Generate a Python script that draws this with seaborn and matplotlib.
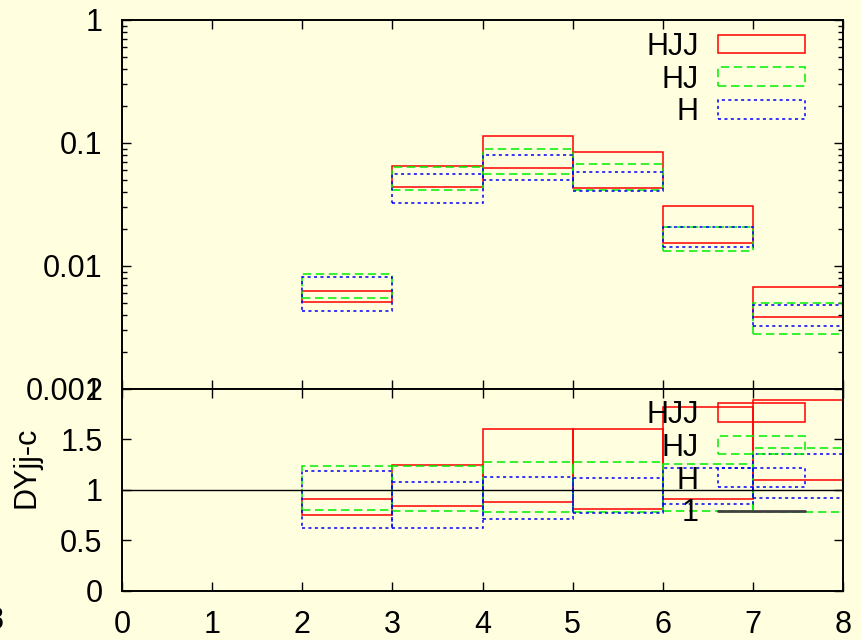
import numpy as np
import matplotlib
matplotlib.use("Agg")
import matplotlib.pyplot as plt
import seaborn as sns
from matplotlib.lines import Line2D

# bin left edges (width 1)
bins = [2, 3, 4, 5, 6, 7]

# absolute distributions: upper / lower band edges
hjj_hi = [0.00626, 0.0654, 0.1134, 0.0840, 0.0306, 0.00671]
hjj_lo = [0.00513, 0.0439, 0.0623, 0.0428, 0.0153, 0.00387]
hj_hi = [0.00857, 0.0642, 0.0894, 0.0671, 0.0209, 0.00500]
hj_lo = [0.00546, 0.0412, 0.0557, 0.0412, 0.0133, 0.00280]
h_hi = [0.00818, 0.0562, 0.0803, 0.0584, 0.0206, 0.00479]
h_lo = [0.00431, 0.0323, 0.0503, 0.0410, 0.0144, 0.00327]

# ratio panel
hjj_r_hi = [0.906, 1.246, 1.600, 1.600, 1.818, 1.891]
hjj_r_lo = [0.748, 0.840, 0.880, 0.813, 0.912, 1.098]
hj_r_hi = [1.236, 1.236, 1.273, 1.273, 1.253, 1.412]
hj_r_lo = [0.797, 0.790, 0.780, 0.783, 0.793, 0.783]
h_r_hi = [1.187, 1.075, 1.131, 1.114, 1.214, 1.352]
h_r_lo = [0.625, 0.619, 0.714, 0.777, 0.860, 0.922]

labels = ["HJJ", "HJ", "H"]
BG = "#FFFFE0"

sns.set_theme(style="ticks", rc={
    "figure.facecolor": BG, "axes.facecolor": BG, "savefig.facecolor": BG,
    "axes.edgecolor": "black", "axes.linewidth": 1.4,
    "text.color": "black", "axes.labelcolor": "black",
    "xtick.color": "black", "ytick.color": "black",
    "xtick.direction": "in", "ytick.direction": "in",
    "xtick.major.size": 6.5, "ytick.major.size": 6.5,
    "xtick.minor.size": 3.5, "ytick.minor.size": 3.5,
    "xtick.major.width": 1.0, "ytick.major.width": 1.0,
    "ytick.minor.width": 1.0,
    "xtick.top": True, "ytick.right": True,
})
plt.rcParams["font.family"] = ["Liberation Sans", "DejaVu Sans"]
FS = 22

styles = [
    dict(edgecolor="#FF0000", linestyle="-"),
    dict(edgecolor="#00EE00", linestyle=(0, (5.5, 3))),
    dict(edgecolor="#0000FF", linestyle=(0, (2, 2.2))),
]

fig = plt.figure(figsize=(8.61, 6.4), dpi=100)
ax1 = fig.add_axes([0.1417, 0.3922, 0.8374, 0.5766])
ax2 = fig.add_axes([0.1417, 0.0766, 0.8374, 0.3156])


def draw_boxes(ax, his, los):
    for lab, hi, lo, st in zip(labels, his, los, styles):
        ax.bar(bins, np.array(hi) - np.array(lo), bottom=lo, width=1.0,
               align="edge", fill=False, linewidth=1.1, label=lab, **st)


legend_kw = dict(loc="upper right", frameon=False, markerfirst=False,
                 fontsize=FS, handlelength=2.85, handleheight=0.56,
                 handletextpad=0.62, labelspacing=0.09, borderpad=0,
                 borderaxespad=0)

draw_boxes(ax1, [hjj_hi, hj_hi, h_hi], [hjj_lo, hj_lo, h_lo])
ax1.set_yscale("log")
ax1.set_ylim(0.001, 1)
ax1.set_xlim(0, 8)
ax1.set_yticks([0.001, 0.01, 0.1, 1])
ax1.set_yticklabels(["0.001", "0.01", "0.1", "1"])
ax1.set_xticks(range(9))
ax1.tick_params(axis="x", labelbottom=False)
ax1.tick_params(axis="y", labelsize=FS, pad=14)
ax1.legend(bbox_to_anchor=(0.947, 0.968), **legend_kw)

draw_boxes(ax2, [hjj_r_hi, hj_r_hi, h_r_hi], [hjj_r_lo, hj_r_lo, h_r_lo])
sns.lineplot(x=[0, 8], y=[1, 1], ax=ax2, color="black", linewidth=1.0)
ax2.set_xlim(0, 8)
ax2.set_ylim(0, 2)
ax2.set_xticks(range(9))
ax2.set_yticks([0, 0.5, 1, 1.5, 2])
ax2.set_yticklabels(["0", "0.5", "1", "1.5", "2"])
ax2.tick_params(axis="both", labelsize=FS, pad=14)
ax2.set_ylabel("")
handles, labs = ax2.get_legend_handles_labels()
handles = handles[:3] + [Line2D([], [], color="#404040", linewidth=2.0)]
labs = labels + ["1"]
ax2.legend(handles, labs, bbox_to_anchor=(0.947, 0.945), **legend_kw)

fig.text(26 / 861, 1 - 467 / 640, "DYjj-c", rotation=90, ha="center",
         va="center", fontsize=FS)
fig.text(4 / 861, 1 - 621 / 640, "8", ha="right", va="center", fontsize=FS)

fig.savefig("out.png", dpi=100, facecolor=BG)
